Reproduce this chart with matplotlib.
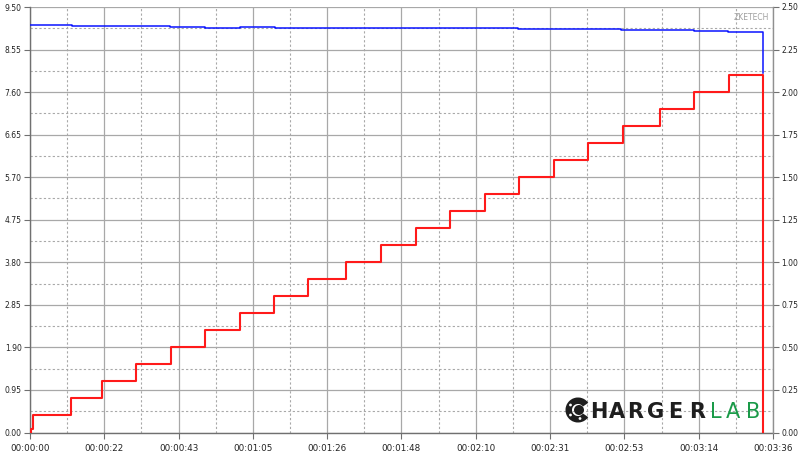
import matplotlib
matplotlib.use("Agg")
import matplotlib.pyplot as plt
from matplotlib.ticker import FixedLocator, FuncFormatter
from matplotlib.patches import Wedge, Circle
from matplotlib.transforms import IdentityTransform

# ---- data ----
red_t = [0.0, 0.2, 0.87, 11.94, 20.87, 30.86, 41.05, 50.94, 60.93, 71.03, 80.84,
         91.99, 102.09, 112.08, 121.97, 132.16, 142.15, 152.19, 162.29, 172.33,
         183.1, 193.09, 203.1, 213.0]
red_a = [0.0, 0.02, 0.10, 0.20, 0.30, 0.40, 0.50, 0.60, 0.70, 0.80, 0.90,
         1.00, 1.10, 1.20, 1.30, 1.40, 1.50, 1.60, 1.70, 1.80,
         1.90, 2.00, 2.10, 0.00]

blue_t = [0.0, 12.2, 40.8, 50.9, 61.1, 71.3, 112.1, 141.8, 171.8, 193.0, 202.9, 213.1]
blue_v = [9.09, 9.07, 9.05, 9.03, 9.05, 9.03, 9.02, 9.00, 8.99, 8.97, 8.95, 8.03]

left_ticks = [0.00, 0.95, 1.90, 2.85, 3.80, 4.75, 5.70, 6.65, 7.60, 8.55, 9.50]
right_ticks = [0.00, 0.25, 0.50, 0.75, 1.00, 1.25, 1.50, 1.75, 2.00, 2.25, 2.50]
x_ticks = [0, 21.6, 43.2, 64.8, 86.4, 108.0, 129.6, 151.2, 172.8, 194.4, 216.0]

W, H = 800, 455
fig = plt.figure(figsize=(W / 100, H / 100), dpi=100)
fig.patch.set_facecolor("white")
L, R, B, T = 30, 773, 432.5, 7
ax = fig.add_axes([L / W, 1 - B / H, (R - L) / W, (B - T) / H])
ax2 = ax.twinx()

grid_c = "#a8a8a8"
ax.set_xlim(0, 216)
ax.set_ylim(0, 9.5)
ax2.set_ylim(0, 2.5)

ax.xaxis.set_major_locator(FixedLocator(x_ticks))
ax.xaxis.set_minor_locator(FixedLocator([x + 10.8 for x in x_ticks[:-1]]))
ax.yaxis.set_major_locator(FixedLocator(left_ticks))
ax.yaxis.set_minor_locator(FixedLocator([y + 0.475 for y in left_ticks[:-1]]))
ax2.yaxis.set_major_locator(FixedLocator(right_ticks))


def tfmt(v, pos):
    s = int(round(v))
    return "%02d:%02d:%02d" % (s // 3600, (s % 3600) // 60, s % 60)


ax.xaxis.set_major_formatter(FuncFormatter(tfmt))
ax.yaxis.set_major_formatter(FuncFormatter(lambda v, p: "%.2f" % v))
ax2.yaxis.set_major_formatter(FuncFormatter(lambda v, p: "%.2f" % v))

ax.grid(which="major", color=grid_c, linewidth=0.9, linestyle="-")
ax.grid(which="minor", color=grid_c, linewidth=0.8, linestyle=(0, (2, 2)))
ax.set_axisbelow(True)

for a in (ax, ax2):
    a.spines["top"].set_visible(False)
for s in ("left", "bottom"):
    ax.spines[s].set_color("#707070")
    ax.spines[s].set_linewidth(1.0)
ax.spines["right"].set_visible(False)
ax2.spines["left"].set_visible(False)
ax2.spines["bottom"].set_visible(False)
ax2.spines["right"].set_color("#909090")
ax2.spines["right"].set_linewidth(1.0)

ax.tick_params(axis="y", which="major", length=4, width=0.8, color="#707070",
               labelsize=5.5, pad=2, labelcolor="#222222")
ax.tick_params(axis="x", which="major", length=4, width=0.8, color="#707070",
               labelsize=6.3, pad=4, labelcolor="#222222")
ax.tick_params(which="minor", length=0)
ax2.tick_params(axis="y", length=4, width=0.8, color="#707070", labelsize=5.5,
                pad=2, labelcolor="#222222")
for lab in ax.get_xticklabels():
    lab.set_family(["Liberation Sans Narrow", "DejaVu Sans"])

ax.step(blue_t, blue_v, where="post", color="#0a14ff", linewidth=1.1, zorder=3)
ax2.step(red_t, red_a, where="post", color="#ff1a1a", linewidth=1.5, zorder=4)

# watermark
fig.text(751 / W, 1 - 18 / H, "ZKETECH", color="#a0a0a0", fontsize=5.5,
         ha="center", va="center")

# logo
base_y = 1 - 417.5 / H
for ch, cx in zip("HARGER", [599, 616.5, 635, 655.5, 675.5, 697]):
    fig.text(cx / W, base_y, ch, fontsize=15, fontweight="bold",
             color="#1e1e1e", ha="center", va="baseline")
for ch, cx in zip("LAB", [715.5, 733, 753.5]):
    fig.text(cx / W, base_y, ch, fontsize=15, fontweight="normal",
             family=["DejaVu Sans"], color="#1a9a48",
             ha="center", va="baseline")

cx, cy = 578, H - 410
idt = IdentityTransform()
fig.add_artist(Wedge((cx, cy), 12.5, 35, 325, width=6.5, facecolor="#1e1e1e",
                     edgecolor="none", transform=idt))
fig.add_artist(Circle((cx + 1, cy), 5, facecolor="#1e1e1e", edgecolor="none",
                      transform=idt))
for dx, dy in [(-7.5, 5), (-7.5, -5), (2, -8.5)]:
    fig.add_artist(Circle((cx + dx, cy + dy), 1.4, facecolor="white",
                          edgecolor="none", transform=idt))

fig.savefig("out.png", dpi=100, facecolor="white")
